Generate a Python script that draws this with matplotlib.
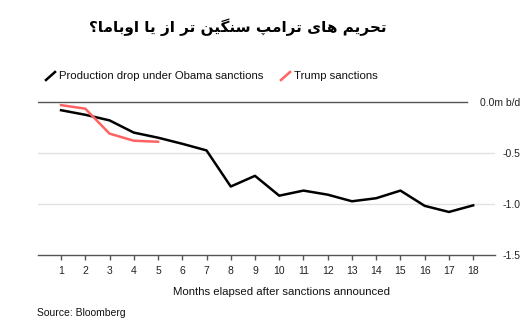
import matplotlib
matplotlib.use("Agg")
import matplotlib.pyplot as plt
from matplotlib.lines import Line2D

# data (m b/d change)
months = list(range(1, 19))
obama = [-0.08, -0.125, -0.18, -0.30, -0.35, -0.41, -0.475, -0.83, -0.725,
         -0.92, -0.87, -0.91, -0.975, -0.945, -0.87, -1.02, -1.08, -1.015]
trump_months = [1, 2, 3, 4, 5]
trump = [-0.03, -0.065, -0.31, -0.38, -0.39]
yticks = [0.0, -0.5, -1.0, -1.5]
ytick_labels = ["0.0m b/d", "-0.5", "-1.0", "-1.5"]

title = "تحریم های ترامپ سنگین تر از یا اوباما؟"

# minimal arabic/persian shaping (no reshaper lib in sandbox)
FORMS = {
    'ت': ('\uFE95', '\uFE96', '\uFE97', '\uFE98'),
    'ح': ('\uFEA1', '\uFEA2', '\uFEA3', '\uFEA4'),
    'ی': ('\uFBFC', '\uFBFD', '\uFBFE', '\uFBFF'),
    'م': ('\uFEE1', '\uFEE2', '\uFEE3', '\uFEE4'),
    'ه': ('\uFEE9', '\uFEEA', '\uFEEB', '\uFEEC'),
    'پ': ('\uFB56', '\uFB57', '\uFB58', '\uFB59'),
    'س': ('\uFEB1', '\uFEB2', '\uFEB3', '\uFEB4'),
    'ن': ('\uFEE5', '\uFEE6', '\uFEE7', '\uFEE8'),
    'گ': ('\uFB92', '\uFB93', '\uFB94', '\uFB95'),
    'ب': ('\uFE8F', '\uFE90', '\uFE91', '\uFE92'),
    'ر': ('\uFEAD', '\uFEAE'),
    'ا': ('\uFE8D', '\uFE8E'),
    'ز': ('\uFEAF', '\uFEB0'),
    'و': ('\uFEED', '\uFEEE'),
}


def shape(s):
    out = []
    for i, ch in enumerate(s):
        if ch not in FORMS:
            out.append(ch)
            continue
        prev = s[i - 1] if i > 0 else None
        nxt = s[i + 1] if i + 1 < len(s) else None
        f = FORMS[ch]
        jp = prev in FORMS and len(FORMS[prev]) == 4
        jn = nxt in FORMS and len(f) == 4
        if jp and jn:
            out.append(f[3])
        elif jp:
            out.append(f[1])
        elif jn:
            out.append(f[2])
        else:
            out.append(f[0])
    return ''.join(out)[::-1]


plt.rcParams['font.family'] = ['Liberation Sans', 'DejaVu Sans']

fig = plt.figure(figsize=(5.31, 3.35), dpi=100)
ax = fig.add_axes([0.0716, 0.2397, 0.8606, 0.4708])

ax.plot(months, obama, color='black', lw=1.8, zorder=3)
ax.plot(trump_months, trump, color='#ff6262', lw=1.8, zorder=4)

ax.set_xlim(0.05, 18.9)
ax.set_ylim(-1.5, 0.05)

for v in [-0.5, -1.0]:
    ax.axhline(v, color='#e2e2e2', lw=1, zorder=1)
ax.axhline(0, xmin=0, xmax=0.939, color='#555555', lw=1, zorder=2)

for s in ['top', 'right', 'left']:
    ax.spines[s].set_visible(False)
ax.spines['bottom'].set_color('#555555')
ax.spines['bottom'].set_linewidth(1)

ax.set_xticks(months)
ax.set_xticklabels([str(m) for m in months])
ax.tick_params(axis='x', direction='out', length=3.5, width=1, color='#555555',
               pad=4.5, labelsize=7.5, labelcolor='#222222')

ax.yaxis.tick_right()
ax.set_yticks(yticks)
ax.set_yticklabels(ytick_labels)
ax.tick_params(axis='y', length=0, pad=18.5, labelsize=7.5, labelcolor='#222222')
for t in ax.get_yticklabels():
    t.set_horizontalalignment('right')

fig.text(238 / 531, 1 - 27 / 335, shape(title), ha='center', va='center',
         fontsize=11, fontweight='bold', family=['DejaVu Sans'])

# legend
fig.add_artist(Line2D([46 / 531, 55 / 531], [1 - 80 / 335, 1 - 72 / 335],
                      color='black', lw=1.8))
fig.text(59 / 531, 1 - 76 / 335, "Production drop under Obama sanctions",
         ha='left', va='center', fontsize=8.2, color='#111111')
fig.add_artist(Line2D([281 / 531, 290 / 531], [1 - 80 / 335, 1 - 72 / 335],
                      color='#ff6262', lw=1.8))
fig.text(294 / 531, 1 - 76 / 335, "Trump sanctions",
         ha='left', va='center', fontsize=8.2, color='#111111')

fig.text(281.7 / 531, 1 - 292 / 335, "Months elapsed after sanctions announced",
         ha='center', va='center', fontsize=8.2, color='#111111')
fig.text(37 / 531, 1 - 312.7 / 335, "Source: Bloomberg",
         ha='left', va='center', fontsize=7.5, color='#111111')

fig.savefig("out.png", dpi=100)
